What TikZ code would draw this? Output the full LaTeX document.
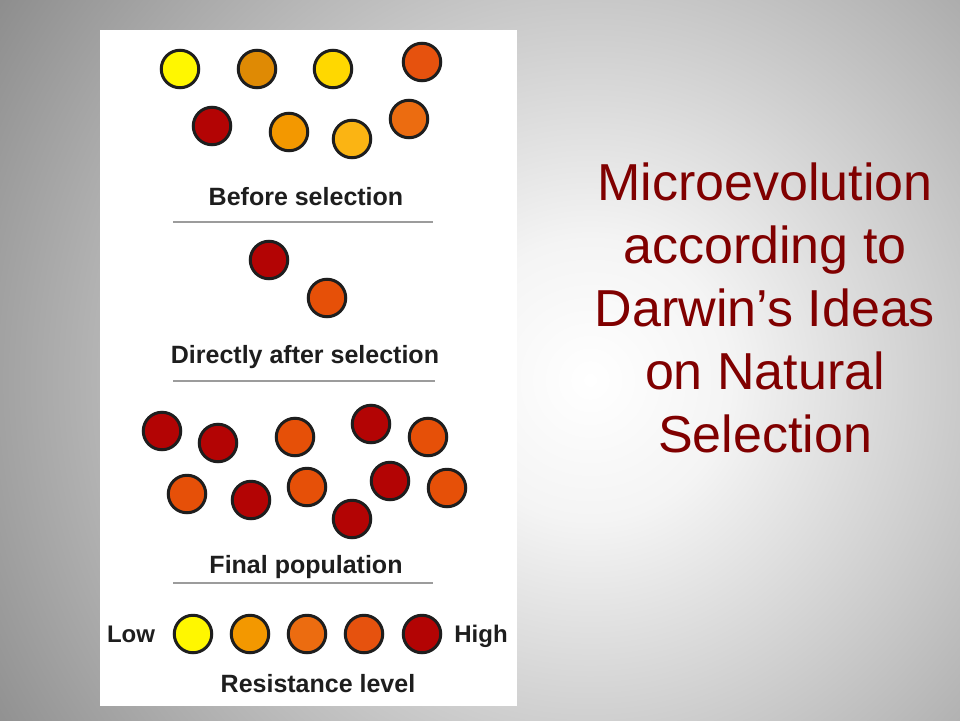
\documentclass[tikz,border=0pt]{standalone}
\usepackage{fontspec}
\setmainfont{Liberation Sans}
\definecolor{bggray}{HTML}{8E8E8E}
\definecolor{bglight}{HTML}{F4F4F4}
\definecolor{titlered}{HTML}{800000}
\definecolor{ink}{HTML}{1E1E1E}
\definecolor{rule}{HTML}{9C9C9C}
\definecolor{cyellow}{HTML}{FFF700}
\definecolor{cdarkorange}{HTML}{DF8A04}
\definecolor{cgold}{HTML}{FFD800}
\definecolor{cred}{HTML}{E6520E}
\definecolor{cdred}{HTML}{B30404}
\definecolor{corange}{HTML}{F39800}
\definecolor{camber}{HTML}{FBB413}
\definecolor{corg}{HTML}{EC6C10}
\definecolor{cored}{HTML}{E65008}
\pgfdeclareradialshading{bgshade}{\pgfpoint{0bp}{0bp}}{color(0bp)=(white); color(5bp)=(bglight); color(15bp)=(bggray!55!white); color(25bp)=(bggray); color(50bp)=(bggray)}
\begin{document}
\begin{tikzpicture}[x=1pt,y=-1pt,
  ball/.style={circle, draw=ink, line width=3pt, minimum size=37.5pt, inner sep=0pt},
  lbl/.style={anchor=base, text=ink, font=\bfseries\fontsize{25}{30}\selectfont, inner sep=0pt},
  ttl/.style={anchor=base, text=titlered, font=\fontsize{52}{63}\selectfont, inner sep=0pt},
  sep/.style={draw=rule, line width=2pt}]
\useasboundingbox (0,0) rectangle (960,720);
% background
\fill[bggray] (0,0) rectangle (960,720);
\begin{scope}
  \clip (0,0) rectangle (960,720);
  \shade[shading=bgshade] (590,380) circle [radius=700pt];
\end{scope}
% white panel
\fill[white] (100,30) rectangle (517,706);
% Before selection
\node[ball, fill=cyellow] (b1) at (180,69) {};
\node[ball, fill=cdarkorange] (b2) at (257,69) {};
\node[ball, fill=cgold] (b3) at (333,69) {};
\node[ball, fill=cred] (b4) at (422,62) {};
\node[ball, fill=cdred] (b5) at (212,126) {};
\node[ball, fill=corange] (b6) at (289,132) {};
\node[ball, fill=camber] (b7) at (352,139) {};
\node[ball, fill=corg] (b8) at (409,119) {};
\node[lbl] (lbl1) at (306,205) {Before selection};
\coordinate (r1a) at (173,222); \coordinate (r1b) at (433,222);
\draw[sep] (r1a) -- (r1b);
% Directly after selection
\node[ball, fill=cdred] (a1) at (269,260) {};
\node[ball, fill=cored] (a2) at (327,298) {};
\node[lbl] (lbl2) at (305,363) {Directly after selection};
\coordinate (r2a) at (173,381); \coordinate (r2b) at (435,381);
\draw[sep] (r2a) -- (r2b);
% Final population
\node[ball, fill=cdred] (f1) at (162,431) {};
\node[ball, fill=cdred] (f2) at (218,443) {};
\node[ball, fill=cored] (f3) at (295,437) {};
\node[ball, fill=cdred] (f4) at (371,424) {};
\node[ball, fill=cored] (f5) at (428,437) {};
\node[ball, fill=cored] (f6) at (187,494) {};
\node[ball, fill=cdred] (f7) at (251,500) {};
\node[ball, fill=cored] (f8) at (307,487) {};
\node[ball, fill=cdred] (f9) at (352,519) {};
\node[ball, fill=cdred] (f10) at (390,481) {};
\node[ball, fill=cored] (f11) at (447,488) {};
\node[lbl] (lbl3) at (306,573) {Final population};
\coordinate (r3a) at (173,583); \coordinate (r3b) at (433,583);
\draw[sep] (r3a) -- (r3b);
% Resistance scale
\node[lbl, font=\bfseries\fontsize{24}{29}\selectfont] (low) at (131,642) {Low};
\node[ball, fill=cyellow] (s1) at (193,634) {};
\node[ball, fill=corange] (s2) at (250,634) {};
\node[ball, fill=corg] (s3) at (307,634) {};
\node[ball, fill=cred] (s4) at (364,634) {};
\node[ball, fill=cdred] (s5) at (422,634) {};
\node[lbl, font=\bfseries\fontsize{24}{29}\selectfont] (high) at (481,642) {High};
\node[lbl] (res) at (318,692) {Resistance level};
% Title
\node[ttl] (t1) at (765,200) {Microevolution};
\node[ttl] (t2) at (765,263) {according to};
\node[ttl] (t3) at (765,326) {Darwin’s Ideas};
\node[ttl] (t4) at (765,389) {on Natural};
\node[ttl] (t5) at (765,452) {Selection};
\end{tikzpicture}
\end{document}
